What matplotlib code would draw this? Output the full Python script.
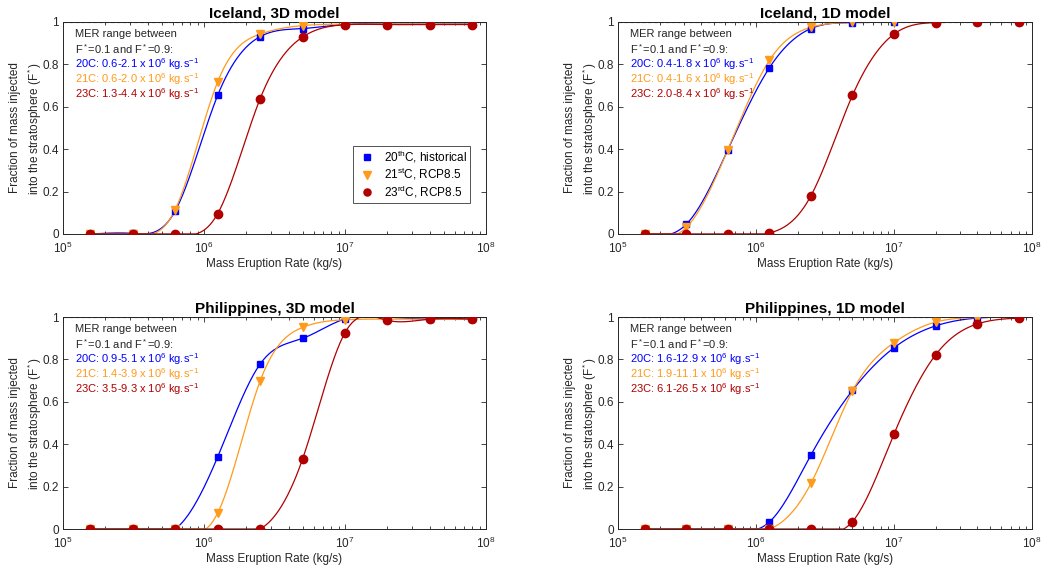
import numpy as np
import matplotlib
matplotlib.use('Agg')
import matplotlib.pyplot as plt

plt.rcParams['font.family'] = ['Liberation Sans', 'DejaVu Sans']
plt.rcParams['mathtext.fontset'] = 'custom'
plt.rcParams['mathtext.rm'] = 'Liberation Sans'
plt.rcParams['mathtext.it'] = 'Liberation Sans'

# mass eruption rates (kg/s), doubling steps
mer = [1.5625e5, 3.125e5, 6.25e5, 1.25e6, 2.5e6, 5e6, 1e7, 2e7, 4e7, 8e7]

# fraction of mass injected into the stratosphere
ice3d_20c = [0.0, 0.003, 0.109, 0.654, 0.931, 0.969, 0.989, 0.99, 0.99, 0.99]
ice3d_21c = [0.0, 0.0, 0.115, 0.718, 0.943, 0.983, 0.99, 0.99, 0.99, 0.99]
ice3d_23c = [0.0, 0.0, 0.0, 0.096, 0.638, 0.929, 0.987, 0.988, 0.988, 0.988]

ice1d_20c = [0.0, 0.046, 0.397, 0.784, 0.969, 0.997, 1.0, 1.0, 1.0, 1.0]
ice1d_21c = [0.0, 0.031, 0.398, 0.819, 0.975, 0.998, 1.0, 1.0, 1.0, 1.0]
ice1d_23c = [0.0, 0.0, 0.0, 0.005, 0.18, 0.654, 0.943, 0.997, 1.0, 1.0]

phi3d_20c = [0.0, 0.0, 0.0, 0.34, 0.778, 0.899, 0.991, 1.0, 0.99, 0.99]
phi3d_21c = [0.0, 0.0, 0.0, 0.075, 0.698, 0.951, 0.987, 0.99, 0.99, 0.99]
phi3d_23c = [0.0, 0.0, 0.0, 0.0, 0.0, 0.33, 0.926, 0.984, 0.99, 0.99]

phi1d_20c = [0.0, 0.0, 0.0, 0.033, 0.349, 0.654, 0.855, 0.958, 0.995, 1.0]
phi1d_21c = [0.0, 0.0, 0.0, 0.0, 0.215, 0.651, 0.879, 0.976, 0.997, 1.0]
phi1d_23c = [0.0, 0.0, 0.0, 0.0, 0.0, 0.035, 0.448, 0.821, 0.967, 0.995]

titles = ['Iceland, 3D model', 'Iceland, 1D model',
          'Philippines, 3D model', 'Philippines, 1D model']
ranges = [['0.6-2.1', '0.6-2.0', '1.3-4.4'],
          ['0.4-1.8', '0.4-1.6', '2.0-8.4'],
          ['0.9-5.1', '1.4-3.9', '3.5-9.3'],
          ['1.6-12.9', '1.9-11.1', '6.1-26.5']]
panels = [[ice3d_20c, ice3d_21c, ice3d_23c],
          [ice1d_20c, ice1d_21c, ice1d_23c],
          [phi3d_20c, phi3d_21c, phi3d_23c],
          [phi1d_20c, phi1d_21c, phi1d_23c]]

labels = ['20$^{th}$C, historical', '21$^{st}$C, RCP8.5', '23$^{rd}$C, RCP8.5']
tags = ['20C', '21C', '23C']
colors = ['#0000FF', '#FF9A1A', '#B00000']
markers = ['s', 'v', 'o']
msizes = [4.5, 6, 6]
ink = '#262626'


def spline(u, y, uu):
    # natural cubic spline, only used to draw the smooth curve
    u = np.asarray(u, float)
    y = np.asarray(y, float)
    n = len(u)
    h = np.diff(u)
    A = np.zeros((n, n))
    b = np.zeros(n)
    A[0, 0] = A[-1, -1] = 1
    for i in range(1, n - 1):
        A[i, i - 1] = h[i - 1]
        A[i, i] = 2 * (h[i - 1] + h[i])
        A[i, i + 1] = h[i]
        b[i] = 6 * ((y[i + 1] - y[i]) / h[i] - (y[i] - y[i - 1]) / h[i - 1])
    M = np.linalg.solve(A, b)
    k = np.clip(np.searchsorted(u, uu) - 1, 0, n - 2)
    t0 = u[k + 1] - uu
    t1 = uu - u[k]
    hk = h[k]
    out = (M[k] * t0**3 / (6 * hk) + M[k + 1] * t1**3 / (6 * hk)
           + (y[k] / hk - M[k] * hk / 6) * t0
           + (y[k + 1] / hk - M[k + 1] * hk / 6) * t1)
    # keep flat where both neighbours are zero
    flat = (y[k] == 0) & (y[k + 1] == 0)
    out[flat] = 0
    return np.clip(out, 0, 1)


fig = plt.figure(figsize=(10.54, 5.71), dpi=100)
W, H = 1054.0, 571.0
boxes = [(63, 22, 486, 234), (618, 22, 1032, 234),
         (63, 317, 486, 529), (618, 317, 1032, 529)]

lu = np.log10(mer)
uu = np.linspace(lu[0], lu[-1], 800)

for p in range(4):
    x0, y0, x1, y1 = boxes[p]
    ax = fig.add_axes([x0 / W, 1 - y1 / H, (x1 - x0) / W, (y1 - y0) / H])
    ax.axhline(1, color='k', ls='--', lw=0.8, zorder=1)
    for s in range(3):
        ax.plot(10**uu, spline(lu, panels[p][s], uu), color=colors[s],
                lw=0.9, zorder=2)
        ax.plot(mer, panels[p][s], ls='none', marker=markers[s], ms=msizes[s],
                color=colors[s], label=labels[s], zorder=3)
    ax.set_xscale('log')
    ax.set_xlim(1e5, 1e8)
    ax.set_ylim(0, 1)
    ax.set_yticks([0, 0.2, 0.4, 0.6, 0.8, 1])
    ax.set_yticklabels(['0', '0.2', '0.4', '0.6', '0.8', '1'])
    ax.tick_params(which='both', direction='in', top=True, right=True,
                   labelsize=8.5, colors=ink, width=0.6)
    ax.tick_params(which='major', length=3.5)
    ax.tick_params(which='minor', length=2)
    ax.tick_params(axis='x', which='major', pad=5)
    ax.tick_params(axis='y', which='major', pad=3)
    for sp in ax.spines.values():
        sp.set_color(ink)
        sp.set_linewidth(0.7)
    ax.set_title(titles[p], fontsize=11, fontweight='bold', pad=3)
    ax.set_xlabel('Mass Eruption Rate (kg/s)', fontsize=8.5, color=ink,
                  labelpad=1)
    ax.set_ylabel('Fraction of mass injected\ninto the stratosphere (F$^*$)',
                  fontsize=8.5, color=ink, labelpad=-1.5, linespacing=1.4)

    ax.text(0.028, 0.945, 'MER range between', transform=ax.transAxes,
            fontsize=8, color=ink, va='center')
    ax.text(0.028, 0.873, 'F$^*$=0.1 and F$^*$=0.9:', transform=ax.transAxes,
            fontsize=8, color=ink, va='center')
    for s in range(3):
        ax.text(0.028, 0.80 - 0.071 * s,
                tags[s] + ': ' + ranges[p][s] + ' x 10$^6$ kg.s$^{-1}$',
                transform=ax.transAxes, fontsize=8, color=colors[s],
                va='center')

    if p == 0:
        leg = ax.legend(loc='lower right', bbox_to_anchor=(0.962, 0.146),
                        borderaxespad=0, fontsize=8.5, frameon=True,
                        fancybox=False, edgecolor=ink, handletextpad=0.4,
                        handlelength=2.0, borderpad=0.25, labelspacing=0.12,
                        markerscale=0.85)
        leg.get_frame().set_linewidth(0.7)

plt.savefig('out.png', dpi=100)
